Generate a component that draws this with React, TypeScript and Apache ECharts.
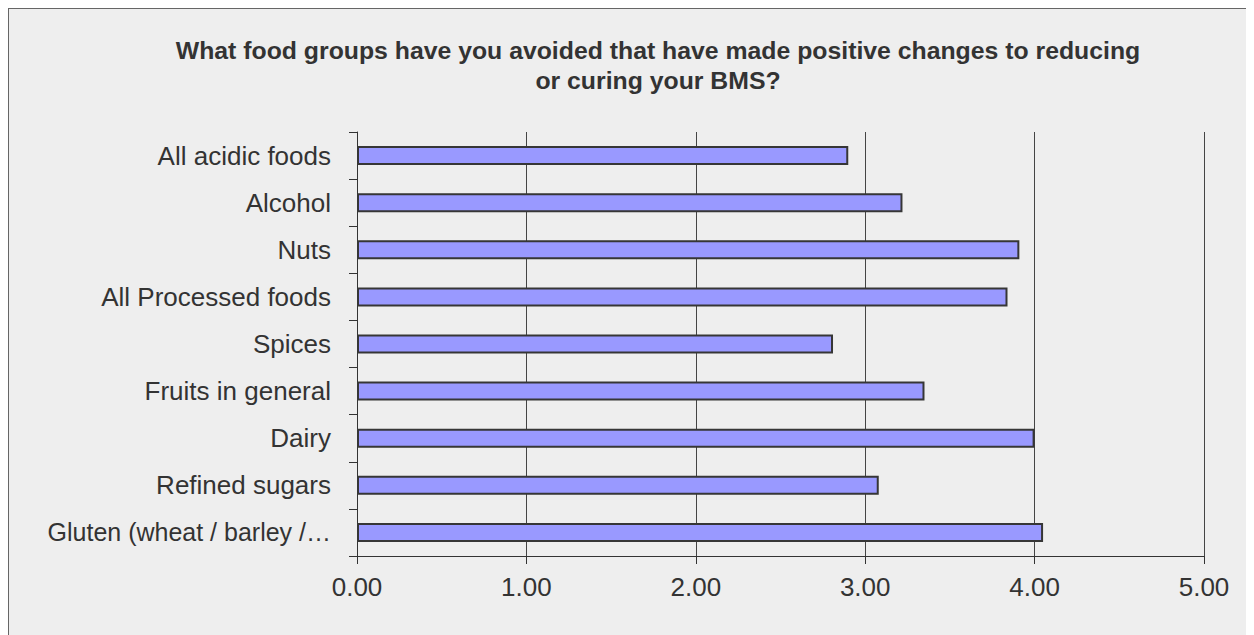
import React, { useEffect, useRef } from "react";
import * as echarts from "echarts";

const titleText =
  "What food groups have you avoided that have made positive changes to reducing\nor curing your BMS?";
const categories = [
  "All acidic foods",
  "Alcohol",
  "Nuts",
  "All Processed foods",
  "Spices",
  "Fruits in general",
  "Dairy",
  "Refined sugars",
  "Gluten (wheat / barley /…",
];
const values = [2.9, 3.22, 3.91, 3.84, 2.81, 3.35, 4.0, 3.08, 4.05];
const xTickDecimals = 2;

const FONT = "'Liberation Sans', Arial, sans-serif";

export default function App() {
  const ref = useRef<HTMLDivElement>(null);
  useEffect(() => {
    if (!ref.current) return;
    const chart = echarts.init(ref.current, undefined, { renderer: "svg" });
    chart.setOption({
      animation: false,
      backgroundColor: "#eeeeee",
      title: {
        text: titleText,
        left: 644,
        top: 21,
        textAlign: "center",
        textStyle: {
          fontFamily: FONT,
          fontSize: 24.8,
          fontWeight: "bold",
          color: "#333333",
          lineHeight: 30,
        },
      },
      grid: { left: 348, top: 123, width: 847, height: 424, containLabel: false },
      xAxis: {
        type: "value",
        min: 0,
        max: 5,
        interval: 1,
        axisLine: { show: true, lineStyle: { color: "#333333", width: 1 } },
        axisTick: { show: true, length: 8, lineStyle: { color: "#333333" } },
        axisLabel: {
          formatter: (v: number) => v.toFixed(xTickDecimals),
          fontFamily: FONT,
          fontSize: 26,
          color: "#333333",
          margin: 18,
        },
        splitLine: { show: true, lineStyle: { color: "#444444", width: 1 } },
      },
      yAxis: {
        type: "category",
        data: categories,
        inverse: true,
        axisLine: { show: true, lineStyle: { color: "#333333", width: 1 } },
        axisTick: { show: true, length: 8, lineStyle: { color: "#333333" } },
        axisLabel: {
          fontFamily: FONT,
          fontSize: 26,
          color: "#333333",
          margin: 26,
          formatter: (v: string) => (v.length > 22 ? `{s|${v}}` : v),
          rich: {
            s: { fontFamily: FONT, fontSize: 25, color: "#333333" },
          },
        },
      },
      series: [
        {
          type: "bar",
          data: values,
          barWidth: 19,
          itemStyle: { color: "#9999ff", borderColor: "#363636", borderWidth: 2 },
        },
      ],
    });
    return () => chart.dispose();
  }, []);
  return (
    <div
      ref={ref}
      style={{
        width: 1245,
        height: 626,
        borderLeft: "1px solid #666666",
        borderTop: "1px solid #666666",
      }}
    />
  );
}
